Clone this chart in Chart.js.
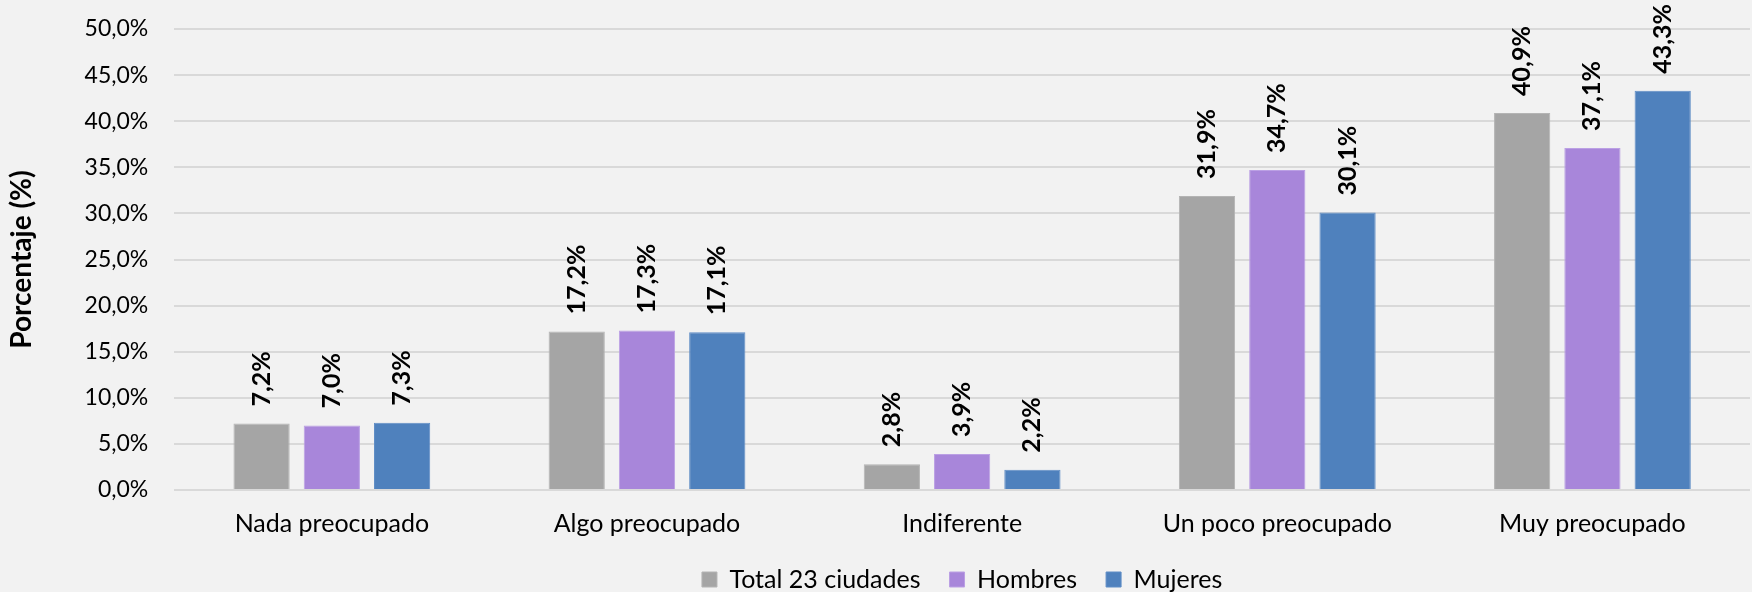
<!DOCTYPE html>
<html>
<head>
<meta charset="utf-8">
<script src="https://cdn.jsdelivr.net/npm/chart.js@4.4.0/dist/chart.umd.min.js"></script>
<style>
  html, body { margin: 0; padding: 0; background: #F2F2F2; }
  #wrap { width: 1752px; height: 592px; position: relative; }
</style>
</head>
<body>
<div id="wrap"><canvas id="chart"></canvas></div>
<script>
// categorías y series
const categories = ['Nada preocupado', 'Algo preocupado', 'Indiferente', 'Un poco preocupado', 'Muy preocupado'];
const totalValues = [7.2, 17.2, 2.8, 31.9, 40.9];
const hombresValues = [7.0, 17.3, 3.9, 34.7, 37.1];
const mujeresValues = [7.3, 17.1, 2.2, 30.1, 43.3];
const seriesNames = ['Total 23 ciudades', 'Hombres', 'Mujeres'];
const yTicks = [0, 5, 10, 15, 20, 25, 30, 35, 40, 45, 50];

const FONT = 'Lato, "Open Sans", sans-serif';
const fmt = v => v.toFixed(1).replace('.', ',') + '%';

// etiquetas rotadas encima de cada barra
const barLabels = {
  id: 'barLabels',
  afterDatasetsDraw(chart) {
    const ctx = chart.ctx;
    ctx.save();
    ctx.fillStyle = '#000';
    ctx.font = 'bold 25px ' + FONT;
    ctx.textAlign = 'left';
    ctx.textBaseline = 'middle';
    chart.data.datasets.forEach((ds, i) => {
      const meta = chart.getDatasetMeta(i);
      meta.data.forEach((bar, j) => {
        ctx.save();
        ctx.translate(bar.x, bar.y - 17);
        ctx.rotate(-Math.PI / 2);
        ctx.fillText(fmt(ds.data[j]), 0, 0);
        ctx.restore();
      });
    });
    ctx.restore();
  }
};

const ctx = document.getElementById('chart').getContext('2d');
new Chart(ctx, {
  type: 'bar',
  data: {
    labels: categories,
    datasets: [
      { label: seriesNames[0], data: totalValues, backgroundColor: '#A5A5A5', borderColor: '#B4B4B4', borderWidth: 1 },
      { label: seriesNames[1], data: hombresValues, backgroundColor: '#A886DA', borderColor: '#BBA0E4', borderWidth: 1 },
      { label: seriesNames[2], data: mujeresValues, backgroundColor: '#4F81BD', borderColor: '#5F8DC6', borderWidth: 1 }
    ]
  },
  options: {
    responsive: true,
    maintainAspectRatio: false,
    animation: false,
    categoryPercentage: 0.669,
    barPercentage: 0.8,
    layout: { padding: { top: 29, right: 2, bottom: -10, left: 5 } },
    scales: {
      x: {
        afterFit: axis => { axis.height = 48; },
        grid: { display: false, drawTicks: false },
        border: { display: false },
        ticks: { color: '#000', font: { family: FONT, size: 25, lineHeight: 1 }, padding: 21 }
      },
      y: {
        min: 0,
        max: 50,
        afterBuildTicks: axis => { axis.ticks = yTicks.map(v => ({ value: v })); },
        // la separación horizontal de las etiquetas no debe reservar espacio arriba/abajo
        afterFit: axis => { axis.paddingTop = 0; axis.paddingBottom = 0; },
        grid: { color: '#D9D9D9', lineWidth: 2, drawTicks: false },
        border: { display: false },
        ticks: {
          color: '#000',
          font: { family: FONT, size: 23, lineHeight: 1 },
          padding: 26,
          callback: v => fmt(v)
        },
        title: {
          display: true,
          text: 'Porcentaje (%)',
          color: '#000',
          font: { family: FONT, size: 28, weight: 'bold' },
          padding: { top: 0, bottom: 20 }
        }
      }
    },
    plugins: {
      legend: {
        position: 'bottom',
        fullSize: false, // centrada bajo el área del gráfico
        labels: {
          color: '#000',
          font: { family: FONT, size: 25 },
          boxWidth: 15,
          boxHeight: 15,
          padding: 29
        }
      },
      tooltip: { enabled: false }
    }
  },
  plugins: [barLabels]
});
</script>
</body>
</html>
